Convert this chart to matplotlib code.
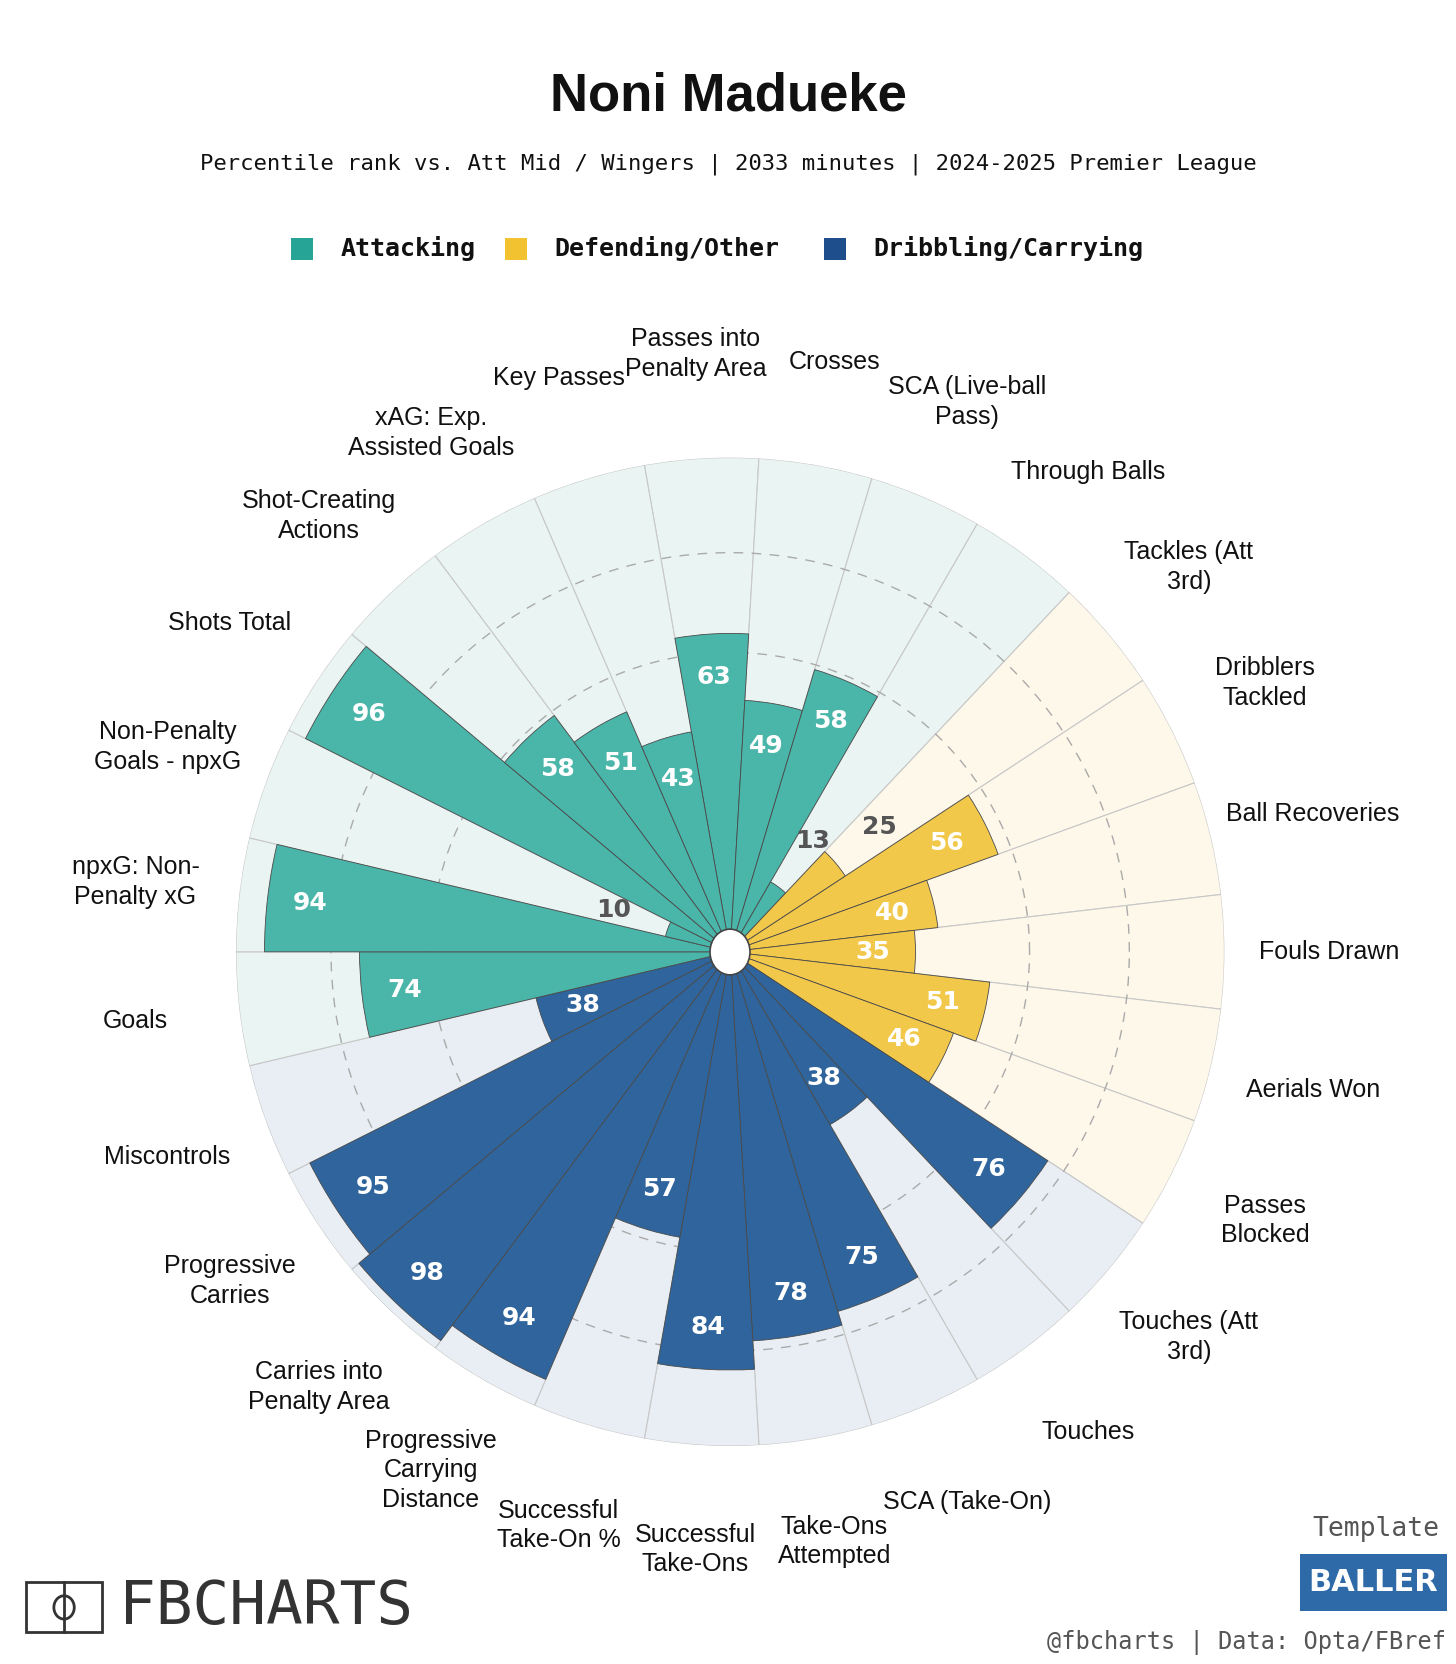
import numpy as np
import matplotlib
matplotlib.use("Agg")
import matplotlib.pyplot as plt
from matplotlib.patches import Rectangle, Circle

labels = [
    "Passes into\nPenalty Area", "Crosses", "SCA (Live-ball\nPass)", "Through Balls",
    "Tackles (Att\n3rd)", "Dribblers\nTackled", "Ball Recoveries", "Fouls Drawn",
    "Aerials Won", "Passes\nBlocked", "Touches (Att\n3rd)", "Touches",
    "SCA (Take-On)", "Take-Ons\nAttempted", "Successful\nTake-Ons", "Successful\nTake-On %",
    "Progressive\nCarrying\nDistance", "Carries into\nPenalty Area", "Progressive\nCarries",
    "Miscontrols", "Goals", "npxG: Non-\nPenalty xG", "Non-Penalty\nGoals - npxG",
    "Shots Total", "Shot-Creating\nActions", "xAG: Exp.\nAssisted Goals", "Key Passes",
]
values = [63, 49, 58, 13, 25, 56, 40, 35, 51, 46, 76, 38, 75, 78, 84, 57,
          94, 98, 95, 38, 74, 94, 10, 96, 58, 51, 43]
groups = ["A"] * 4 + ["D"] * 6 + ["C"] * 10 + ["A"] * 7

dark = {"A": "#4ab5a9", "D": "#f2c84b", "C": "#2f659c"}
light = {"A": "#eaf5f3", "D": "#fdf8ea", "C": "#e9eef4"}
legend_names = [("A", "Attacking", "#26a596"), ("D", "Defending/Other", "#f2c230"),
                ("C", "Dribbling/Carrying", "#1f4e8c")]

SANS = "Liberation Sans"
n = len(values)
step = 2 * np.pi / n
theta = np.deg2rad(7 * 360 / n) - np.arange(n) * step

fig = plt.figure(figsize=(14.56, 16.64), dpi=100)
fig.patch.set_facecolor("white")
ax = fig.add_axes([0.162, 0.131, 0.679, 0.594], projection="polar")
ax.set_ylim(0, 100)
ax.set_rorigin(-4)
ax.set_axis_off()

for t, v, g in zip(theta, values, groups):
    ax.bar(t, 100, width=step, bottom=0, color=light[g], edgecolor="#c8c8c8", linewidth=0.8, zorder=1)
circ = np.linspace(0, 2 * np.pi, 400)
for r in (59, 80):
    ax.plot(circ, [r] * len(circ), color="#aaaaaa", lw=1.0, ls=(0, (7, 6)), zorder=2)
for t, v, g in zip(theta, values, groups):
    ax.bar(t, v, width=step, bottom=0, color=dark[g], edgecolor="#4a4a4a", linewidth=0.6, zorder=3)
    if v < 30:
        ax.text(t, v + 12, str(v), ha="center", va="center", fontsize=18,
                fontweight="bold", color="#555555", zorder=5)
    else:
        ax.text(t, v - 9, str(v), ha="center", va="center", fontsize=18,
                fontweight="bold", color="white", zorder=5)
for t, lab in zip(theta, labels):
    ax.text(t, 122, lab, ha="center", va="center", fontsize=18, family=SANS,
            color="#111111", zorder=5, linespacing=1.3)
fig.patches.append(Circle((730 / 1456, 1 - 952 / 1664), 20 / 1456, transform=fig.transFigure,
                          facecolor="white", edgecolor="#444444", lw=1.2, zorder=10))

fig.text(0.5, 0.942, "Noni Madueke", ha="center", va="center", fontsize=38, fontweight="bold",
         family=SANS, color="#111111")
fig.text(0.5, 0.901, "Percentile rank vs. Att Mid / Wingers | 2033 minutes | 2024-2025 Premier League",
         ha="center", va="center", fontsize=16, family="DejaVu Sans Mono", color="#111111")
xs = [0.2, 0.347, 0.566]
for x, (g, name, col) in zip(xs, legend_names):
    fig.patches.append(Rectangle((x, 0.844), 0.015, 0.013, transform=fig.transFigure, facecolor=col))
    fig.text(x + 0.034, 0.8505, name, ha="left", va="center", fontsize=18, fontweight="bold",
             family="DejaVu Sans Mono", color="#111111")

# logos
fig.patches.append(Rectangle((0.018, 0.019), 0.052, 0.03, transform=fig.transFigure,
                             facecolor="none", edgecolor="#333333", lw=2))
fig.patches.append(Circle((0.044, 0.034), 0.007, transform=fig.transFigure,
                          facecolor="none", edgecolor="#333333", lw=2))
fig.lines.append(plt.Line2D([0.044, 0.044], [0.019, 0.049], transform=fig.transFigure,
                            color="#333333", lw=2))
fig.text(0.082, 0.034, "FBCHARTS", ha="left", va="center", fontsize=44,
         family="DejaVu Sans Mono", color="#333333")
fig.text(0.945, 0.081, "Template", ha="center", va="center", fontsize=19, family="DejaVu Sans Mono", color="#555555")
fig.patches.append(Rectangle((0.893, 0.032), 0.101, 0.034, transform=fig.transFigure, facecolor="#2f6aa8"))
fig.text(0.943, 0.049, "BALLER", ha="center", va="center", fontsize=22, fontweight="bold", color="white")
fig.text(0.993, 0.013, "@fbcharts | Data: Opta/FBref", ha="right", va="center", fontsize=17,
         family="DejaVu Sans Mono", color="#555555")

fig.savefig("out.png", dpi=100)
